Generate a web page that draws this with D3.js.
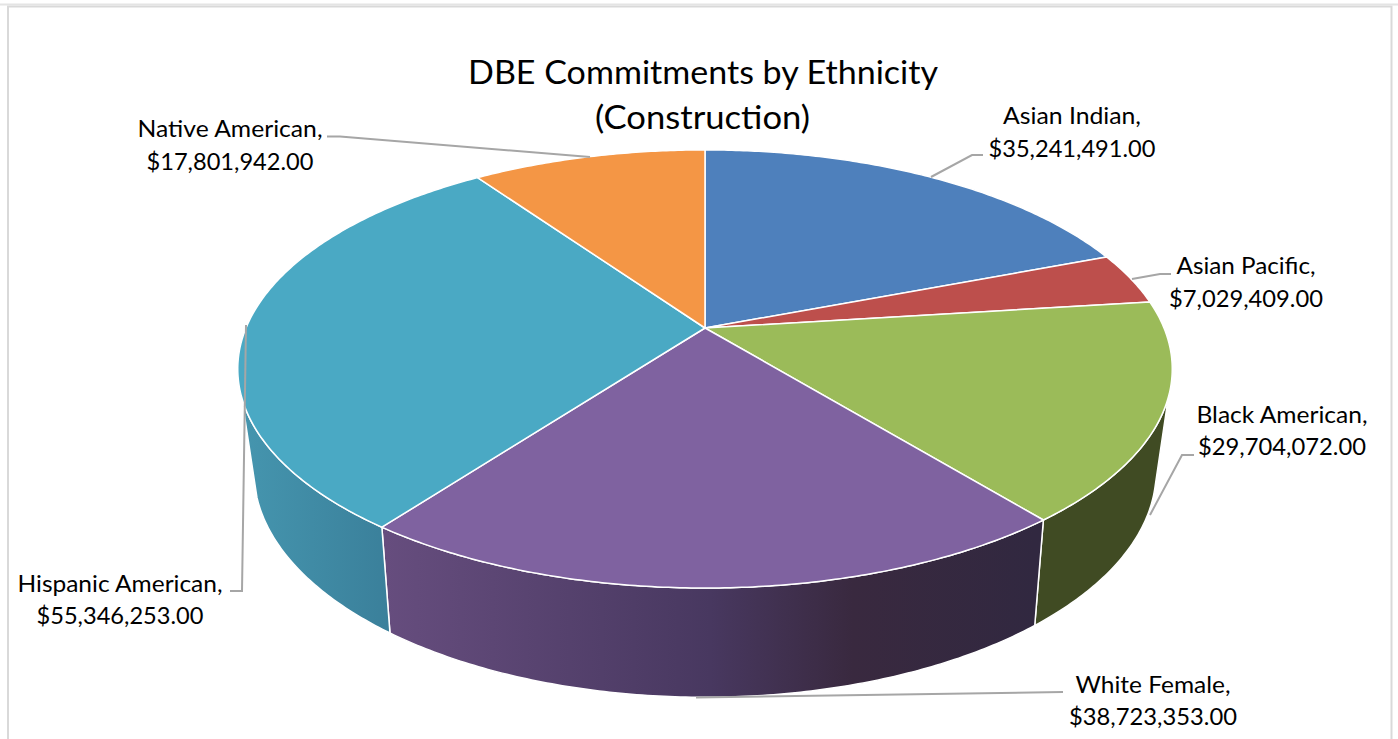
<!DOCTYPE html>
<html>
<head>
<meta charset="utf-8">
<script src="https://cdn.jsdelivr.net/npm/d3@7"></script>
<style>
  html, body { margin: 0; padding: 0; background: #fff; }
  svg { display: block; }
  text { font-family: Lato, "Noto Sans", sans-serif; fill: #000; }
</style>
</head>
<body>
<div id="chart"></div>
<script>
// chart data
var categories = ["Asian Indian", "Asian Pacific", "Black American", "White Female", "Hispanic American", "Native American"]
var amounts = [35241491, 7029409, 29704072, 38723353, 55346253, 17801942]
var topColors = ["#4e80bc", "#bd4f4c", "#9bbb59", "#7f62a0", "#4aa9c4", "#f49645"]
var titleLines = ["DBE Commitments by Ethnicity", "(Construction)"]

var width = 1398, height = 739
var svg = d3.select("#chart").append("svg").attr("width", width).attr("height", height)
var defs = svg.append("defs")

// gradients for the side walls
function wallGradient(id, x1, x2, stops) {
    var g = defs.append("linearGradient").attr("id", id)
        .attr("gradientUnits", "userSpaceOnUse")
        .attr("x1", x1).attr("x2", x2).attr("y1", 0).attr("y2", 0)
    stops.forEach(function(s) {
        g.append("stop").attr("offset", s[0]).attr("stop-color", s[1])
    })
}
wallGradient("wall-hispanic", 245, 392, [[0, "#4595ae"], [1, "#3a7f9a"]])
wallGradient("wall-white", 385, 1035, [[0, "#664d7e"], [0.5, "#483860"], [0.72, "#39293f"], [1, "#312840"]])

var wallFills = {
    "Black American": "#404b23",
    "White Female": "url(#wall-white)",
    "Hispanic American": "url(#wall-hispanic)"
}

// outer frame left over from the source page
var frame = svg.append("g").attr("fill", "none").attr("stroke", "#d9d9d9")
frame.append("path").attr("d", "M8,739V6.5H1391.5V739").attr("stroke-width", 2)
frame.append("path").attr("d", "M0,4.5H1398").attr("stroke-width", 2).attr("stroke", "#e4e4e4")

// the 3D pie is a circle seen in perspective
var topFace = { cx: 705, cy: 328, rx: 459, ry: 211.4, k: 0.187 }
var bottomFace = { cx: 705, cy: 426, rx: 442, ry: 217, k: 0.2 }

function project(face, a) {
    var u = Math.sin(a), v = -Math.cos(a), w = 1 / (1 - face.k * v)
    return [face.cx + face.rx * u * w, face.cy + face.ry * v * w]
}

function arcPoints(face, a0, a1) {
    var n = Math.max(2, Math.ceil(Math.abs(a1 - a0) / 0.01))
    return d3.range(n + 1).map(function(i) {
        return project(face, a0 + (a1 - a0) * i / n)
    })
}

var line = d3.line()
var rad = Math.PI / 180
var slices = d3.pie().sort(null).startAngle(0).endAngle(2 * Math.PI)(amounts)

// visible part of the outer wall, limits on the silhouette
var wallTopStart = 108 * rad, wallBottomStart = 105 * rad, wallEnd = 252 * rad

var walls = svg.append("g")
slices.forEach(function(d, i) {
    var fill = wallFills[categories[i]]
    if (!fill) return
    var t0 = Math.max(d.startAngle, wallTopStart), b0 = Math.max(d.startAngle, wallBottomStart)
    var t1 = Math.min(d.endAngle, wallEnd)
    var pts = arcPoints(topFace, t0, t1).concat(arcPoints(bottomFace, t1, b0))
    walls.append("path").attr("d", line(pts) + "Z").attr("fill", fill)
        .attr("stroke", "#fff").attr("stroke-width", 1.5).attr("stroke-linejoin", "round")
})

var faces = svg.append("g")
slices.forEach(function(d, i) {
    var pts = [[topFace.cx, topFace.cy]].concat(arcPoints(topFace, d.startAngle, d.endAngle))
    faces.append("path").attr("d", line(pts) + "Z").attr("fill", topColors[i])
        .attr("stroke", "#fff").attr("stroke-width", 1.5).attr("stroke-linejoin", "round")
})

// leader lines
var leaders = [
    [[327, 136.5], [340, 136.5], [590, 157]],
    [[983, 155], [972, 155], [931, 177]],
    [[1171, 274], [1160, 274], [1132, 279]],
    [[1194, 455], [1182, 455], [1150, 515]],
    [[1063, 692], [696, 697.5]],
    [[230, 591], [242, 591], [246, 325]]
]
svg.append("g").selectAll("path").data(leaders).join("path")
    .attr("d", line)
    .attr("fill", "none").attr("stroke", "#a6a6a6").attr("stroke-width", 2)

// labels: centre x, two baselines, two line widths
var labelBoxes = [
    { x: 1072, y: [124, 157], w: [138, 167] },
    { x: 1246, y: [274, 307], w: [139, 154] },
    { x: 1282, y: [423, 455], w: [171, 168] },
    { x: 1153, y: [693, 725], w: [155, 168] },
    { x: 120, y: [592, 624], w: [205, 167] },
    { x: 230, y: [137, 170], w: [185, 167] }
]
var money = d3.format("$,.2f")

function putText(str, x, y, size, len) {
    svg.append("text").attr("x", x).attr("y", y)
        .attr("text-anchor", "middle").attr("font-size", size)
        .attr("textLength", len).attr("lengthAdjust", "spacingAndGlyphs")
        .text(str)
}

categories.forEach(function(name, i) {
    var b = labelBoxes[i]
    putText(name + ",", b.x, b.y[0], 23.5, b.w[0])
    putText(money(amounts[i]), b.x, b.y[1], 23.5, b.w[1])
})

putText(titleLines[0], 703, 84, 32.5, 470)
putText(titleLines[1], 702.5, 129, 32.5, 215)
</script>
</body>
</html>
